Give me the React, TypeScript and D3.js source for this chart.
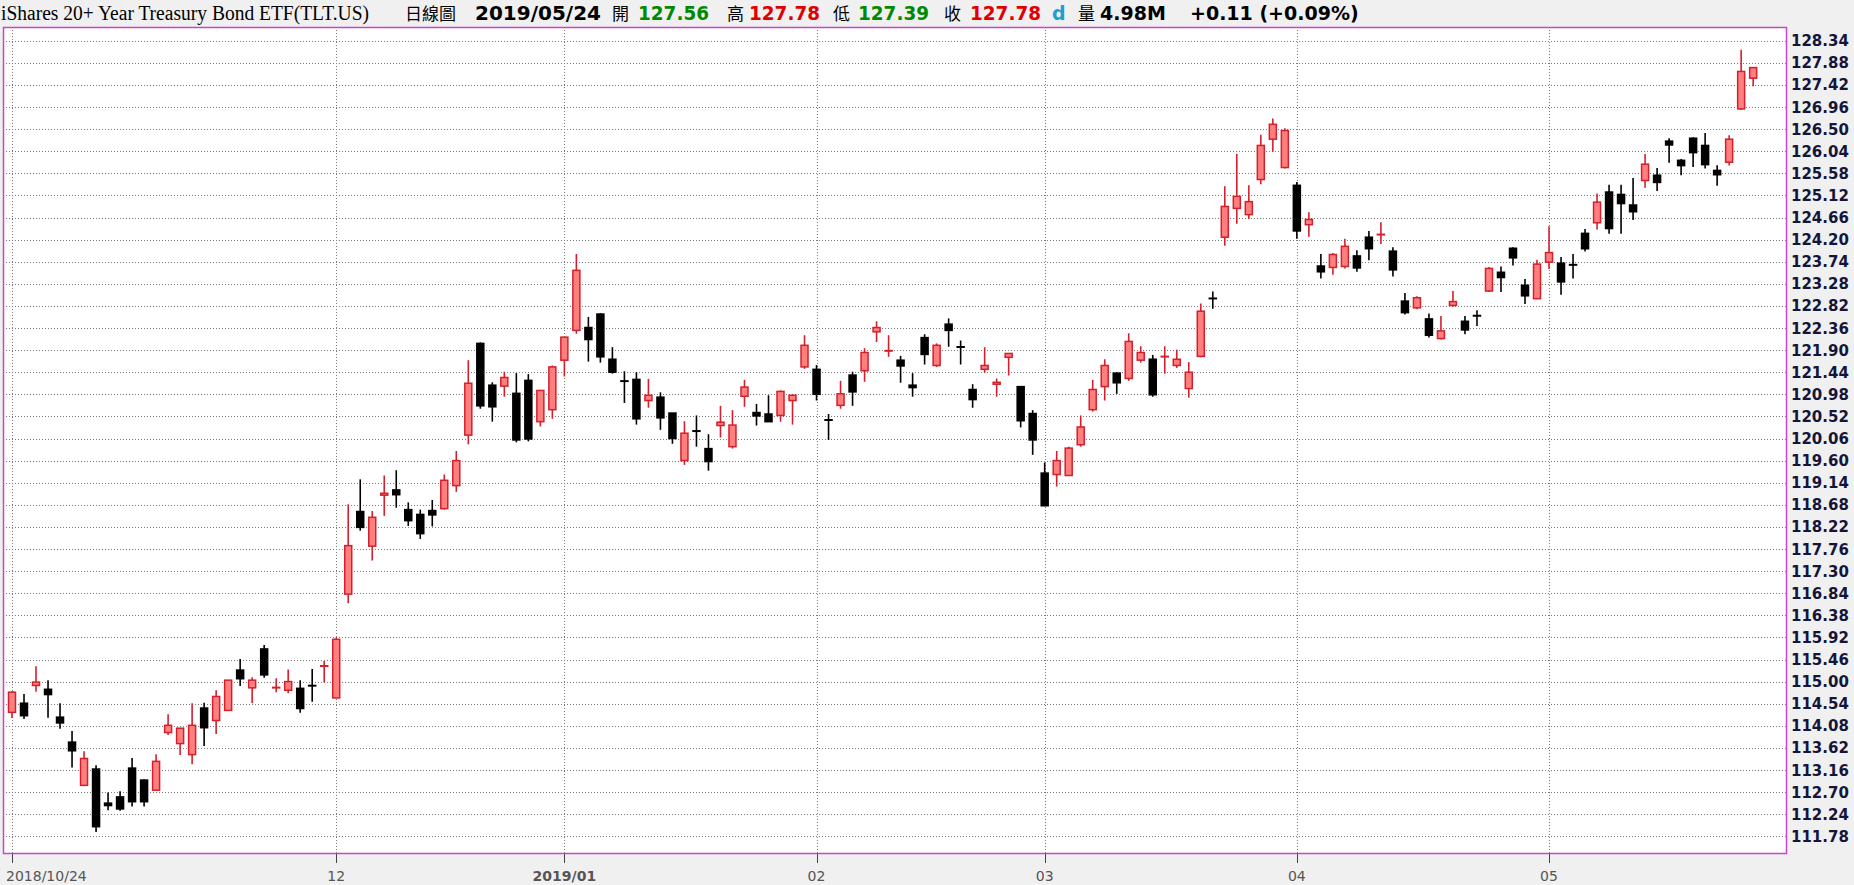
import React from "react";
import * as d3 from "d3";

const dates: string[] = [
  "2018/10/24","2018/10/25","2018/10/26","2018/10/29","2018/10/30","2018/10/31",
  "2018/11/01","2018/11/02","2018/11/05","2018/11/06","2018/11/07","2018/11/08","2018/11/09","2018/11/12","2018/11/13","2018/11/14","2018/11/15","2018/11/16","2018/11/19","2018/11/20","2018/11/21","2018/11/23","2018/11/26","2018/11/27","2018/11/28","2018/11/29","2018/11/30",
  "2018/12/03","2018/12/04","2018/12/06","2018/12/07","2018/12/10","2018/12/11","2018/12/12","2018/12/13","2018/12/14","2018/12/17","2018/12/18","2018/12/19","2018/12/20","2018/12/21","2018/12/24","2018/12/26","2018/12/27","2018/12/28","2018/12/31",
  "2019/01/02","2019/01/03","2019/01/04","2019/01/07","2019/01/08","2019/01/09","2019/01/10","2019/01/11","2019/01/14","2019/01/15","2019/01/16","2019/01/17","2019/01/18","2019/01/22","2019/01/23","2019/01/24","2019/01/25","2019/01/28","2019/01/29","2019/01/30","2019/01/31",
  "2019/02/01","2019/02/04","2019/02/05","2019/02/06","2019/02/07","2019/02/08","2019/02/11","2019/02/12","2019/02/13","2019/02/14","2019/02/15","2019/02/19","2019/02/20","2019/02/21","2019/02/22","2019/02/25","2019/02/26","2019/02/27","2019/02/28",
  "2019/03/01","2019/03/04","2019/03/05","2019/03/06","2019/03/07","2019/03/08","2019/03/11","2019/03/12","2019/03/13","2019/03/14","2019/03/15","2019/03/18","2019/03/19","2019/03/20","2019/03/21","2019/03/22","2019/03/25","2019/03/26","2019/03/27","2019/03/28","2019/03/29",
  "2019/04/01","2019/04/02","2019/04/03","2019/04/04","2019/04/05","2019/04/08","2019/04/09","2019/04/10","2019/04/11","2019/04/12","2019/04/15","2019/04/16","2019/04/17","2019/04/18","2019/04/22","2019/04/23","2019/04/24","2019/04/25","2019/04/26","2019/04/29","2019/04/30",
  "2019/05/01","2019/05/02","2019/05/03","2019/05/06","2019/05/07","2019/05/08","2019/05/09","2019/05/10","2019/05/13","2019/05/14","2019/05/15","2019/05/16","2019/05/17","2019/05/20","2019/05/21","2019/05/22","2019/05/23","2019/05/24",
];

const opens: number[] = [
  114.36,114.55,114.92,114.84,114.26,113.74,112.84,113.18,112.47,112.60,
  113.20,112.95,112.74,113.94,113.71,113.48,114.45,114.19,114.40,115.24,
  114.87,115.68,114.87,114.82,114.86,114.92,115.32,114.66,116.82,118.54,
  117.82,118.88,118.99,118.58,118.48,118.56,118.60,119.08,120.13,122.04,
  121.17,121.15,121.00,121.27,120.41,120.66,121.69,122.31,122.37,122.65,
  121.71,121.26,121.29,120.85,120.92,120.59,119.60,120.22,119.85,120.33,
  119.89,120.94,120.60,120.57,120.54,120.85,121.55,121.50,120.45,120.75,
  121.38,121.47,122.28,121.88,121.69,121.17,122.16,121.58,122.44,121.97,
  121.08,121.50,121.19,121.75,121.14,120.58,119.34,119.31,119.29,119.93,
  120.66,121.14,121.42,121.31,121.69,121.71,121.76,121.58,121.10,121.77,
  122.98,124.25,124.85,124.72,125.45,126.29,125.70,125.33,124.51,123.65,
  123.62,123.64,123.86,124.25,124.30,123.96,122.92,122.78,122.55,122.14,
  122.83,122.50,122.62,123.13,123.52,124.02,123.25,122.97,123.73,123.71,
  123.68,124.33,124.55,125.19,125.14,124.92,125.43,125.54,126.25,125.85,
  126.31,126.16,125.64,125.81,126.92,127.56,
];

const highs: number[] = [
  114.80,114.74,115.32,115.03,114.55,113.97,113.55,113.26,112.69,112.72,
  113.41,112.97,113.49,114.32,114.03,114.55,114.56,114.82,115.03,115.47,
  115.09,115.76,115.07,115.25,115.03,115.26,115.43,115.92,118.69,119.21,
  118.55,119.29,119.40,118.73,118.58,118.78,119.31,119.80,121.69,122.06,
  121.23,121.45,121.42,121.40,121.06,121.58,122.17,123.90,122.59,122.67,
  121.96,121.46,121.44,121.30,121.02,120.59,120.42,120.54,120.15,120.74,
  120.65,121.28,120.78,120.96,121.06,120.98,122.21,121.59,120.57,121.26,
  121.45,121.94,122.50,122.21,121.78,121.42,122.23,122.04,122.56,122.10,
  121.19,121.96,121.31,121.83,121.14,120.65,119.56,119.80,119.89,120.54,
  121.28,121.71,121.44,122.25,121.98,121.80,121.98,121.91,121.65,122.87,
  123.12,125.31,125.98,125.33,126.38,126.72,126.52,125.40,124.77,123.90,
  123.92,124.22,123.98,124.38,124.56,124.04,123.09,123.02,122.66,122.61,
  123.13,122.61,122.73,123.63,123.64,124.04,123.38,123.78,124.48,123.84,
  123.90,124.42,125.16,125.34,125.34,125.48,125.98,125.69,126.31,125.88,
  126.33,126.42,125.75,126.37,128.15,127.78,
];

const lows: number[] = [
  114.24,114.22,114.79,114.25,114.02,113.21,112.84,111.87,112.32,112.31,
  112.40,112.40,112.74,113.89,113.47,113.28,113.66,113.91,114.40,114.91,
  114.55,115.08,114.78,114.76,114.35,114.58,114.98,114.66,116.63,118.14,
  117.52,118.45,118.62,118.24,117.97,118.23,118.58,118.95,119.94,120.68,
  120.41,120.93,119.98,120.00,120.31,120.47,121.35,122.24,121.66,121.64,
  121.41,120.80,120.35,120.70,120.24,119.95,119.51,119.89,119.39,120.08,
  119.85,120.72,120.33,120.41,120.41,120.35,121.51,120.85,120.03,120.68,
  120.74,121.24,122.07,121.76,121.22,120.93,121.60,121.55,121.97,121.60,
  120.70,121.43,120.93,121.37,120.29,119.72,118.66,119.06,119.29,119.89,
  120.62,120.85,120.99,121.26,121.64,120.93,121.41,121.53,120.91,121.75,
  122.76,124.07,124.53,124.63,125.35,126.03,125.68,124.22,124.26,123.39,
  123.47,123.60,123.53,123.77,124.11,123.43,122.64,122.75,122.16,122.12,
  122.80,122.23,122.40,123.11,123.11,123.66,122.86,122.97,123.59,123.05,
  123.39,123.95,124.41,124.32,124.32,124.61,125.28,125.21,125.80,125.54,
  125.71,125.68,125.32,125.74,126.90,127.39,
];

const closes: number[] = [
  114.78,114.29,114.99,114.73,114.14,113.56,113.40,111.98,112.42,112.35,
  112.50,112.50,113.34,114.09,114.03,114.09,114.04,114.69,115.03,115.06,
  115.03,115.14,114.88,115.00,114.44,114.91,115.33,115.88,117.83,118.21,
  118.42,118.92,118.89,118.35,118.08,118.47,119.19,119.60,121.21,120.74,
  120.72,121.33,120.03,120.05,121.06,121.55,122.17,123.56,122.12,121.76,
  121.44,121.25,120.47,120.96,120.49,120.06,120.17,120.21,119.58,120.40,
  120.34,121.13,120.53,120.41,121.04,120.96,122.00,120.98,120.44,120.99,
  121.03,121.85,122.37,121.89,121.57,121.12,121.81,122.00,122.31,121.96,
  120.87,121.58,121.23,121.83,120.43,120.03,118.66,119.60,119.86,120.30,
  121.08,121.58,121.22,122.08,121.85,120.97,121.77,121.71,121.44,122.71,
  122.97,124.89,125.10,124.99,126.16,126.60,126.47,124.38,124.62,123.53,
  123.89,124.06,123.61,124.01,124.31,123.57,122.68,122.99,122.21,122.30,
  122.91,122.32,122.61,123.60,123.41,123.82,123.03,123.69,123.93,123.32,
  123.67,124.01,124.98,124.43,124.95,124.78,125.77,125.39,126.17,125.74,
  126.01,125.76,125.55,126.29,127.70,127.78,
];

const yTickLabels: string[] = [
  "111.78","112.24","112.70","113.16","113.62","114.08","114.54","115.00","115.46",
  "115.92","116.38","116.84","117.30","117.76","118.22","118.68","119.14","119.60",
  "120.06","120.52","120.98","121.44","121.90","122.36","122.82","123.28","123.74",
  "124.20","124.66","125.12","125.58","126.04","126.50","126.96","127.42","127.88","128.34",
];

// x-axis ticks: the date where each tick sits, and its label
const tickDates: string[] = ["2018/10/24", "2018/12/03", "2019/01/02", "2019/02/01", "2019/03/01", "2019/04/01", "2019/05/01"];
const tickLabels: string[] = ["2018/10/24", "12", "2019/01", "02", "03", "04", "05"];

const titleText = "iShares 20+ Year Treasury Bond ETF(TLT.US)";
const periodText = "日線圖";
const lastDate = "2019/05/24";
const quoteLabels: string[] = ["開", "高", "低", "收"];
const quoteValues: string[] = ["127.56", "127.78", "127.39", "127.78"];
const volumeLabel = "量";
const volumeText = "4.98M";
const changeText = "+0.11 (+0.09%)";

const W = 1854;
const H = 885;
const PL = 3, PR = 1787, PT = 27, PB = 854;

const RED_FILL = "#ff7f7f";
const RED_LINE = "#d3202c";
const UP_TXT = "#e00000";
const DN_TXT = "#008a00";

export default function App() {
  const n = dates.length;
  const x = d3.scaleLinear().domain([0, n - 1]).range([12, 12 + 12.008 * (n - 1)]);
  const y = d3.scaleLinear().domain([111.78, 128.34]).range([836.3, 40.7]);

  const tickIdx = tickDates.map((d) => dates.indexOf(d));

  const bodyW = 7;
  const sans = "'DejaVu Sans', Verdana, sans-serif";
  const cjk = "'Noto Sans CJK TC', sans-serif";
  const hdrY = 20;

  const quoteX = [612, 727, 833, 944];
  const valueX = [638, 749, 858, 970];

  return (
    <svg
      width={W}
      height={H}
      style={{ position: "absolute", left: 0, top: 0, display: "block" }}
      xmlns="http://www.w3.org/2000/svg"
    >
      <rect x={0} y={0} width={W} height={H} fill="#f0f0f0" />
      {/* header */}
      <text x={1} y={hdrY} fontFamily="'Liberation Serif', 'Times New Roman', serif" fontSize={20} fill="#000" textLength={368} lengthAdjust="spacingAndGlyphs">
        {titleText}
      </text>
      <text x={405} y={hdrY} fontFamily={cjk} fontSize={17} fill="#000">{periodText}</text>
      <text x={475} y={hdrY} fontFamily={sans} fontWeight="bold" fontSize={19} fill="#000" textLength={126} lengthAdjust="spacingAndGlyphs">{lastDate}</text>
      {quoteLabels.map((l, i) => (
        <g key={l + i}>
          <text x={quoteX[i]} y={hdrY} fontFamily={cjk} fontSize={17} fill="#000">{l}</text>
          <text x={valueX[i]} y={hdrY} fontFamily={sans} fontWeight="bold" fontSize={19} fill={i % 2 === 0 ? DN_TXT : UP_TXT} textLength={71} lengthAdjust="spacingAndGlyphs">{quoteValues[i]}</text>
        </g>
      ))}
      <text x={1052} y={hdrY} fontFamily={sans} fontWeight="bold" fontSize={19} fill="#1e9fd0">d</text>
      <text x={1078} y={hdrY} fontFamily={cjk} fontSize={17} fill="#000">{volumeLabel}</text>
      <text x={1100} y={hdrY} fontFamily={sans} fontWeight="bold" fontSize={19} fill="#000">{volumeText}</text>
      <text x={1190} y={hdrY} fontFamily={sans} fontWeight="bold" fontSize={19} fill="#000">{changeText}</text>

      {/* plot area */}
      <rect x={PL} y={PT} width={PR - PL} height={PB - PT} fill="#ffffff" />
      {yTickLabels.map((t) => (
        <line key={"h" + t} x1={PL} x2={PR} y1={Math.round(y(+t)) + 0.5} y2={Math.round(y(+t)) + 0.5} stroke="#7a7a7a" strokeWidth={1} strokeDasharray="1,2" />
      ))}
      {tickIdx.map((i) => (
        <line key={"v" + i} x1={Math.round(x(i)) + 0.5} x2={Math.round(x(i)) + 0.5} y1={PT} y2={PB} stroke="#7a7a7a" strokeWidth={1} strokeDasharray="1,2" />
      ))}

      {/* candles */}
      {dates.map((d, i) => {
        const o = opens[i], c = closes[i], h = highs[i], l = lows[i];
        const up = c >= o;
        const cx = x(i);
        const col = up ? RED_LINE : "#000";
        const top = y(Math.max(o, c));
        const bot = y(Math.min(o, c));
        const bh = bot - top;
        return (
          <g key={d}>
            <line x1={cx} x2={cx} y1={y(h)} y2={y(l)} stroke={col} strokeWidth={1.6} />
            {bh < 1.5 ? (
              <line x1={cx - bodyW / 2 - 0.75} x2={cx + bodyW / 2 + 0.75} y1={(top + bot) / 2} y2={(top + bot) / 2} stroke={col} strokeWidth={2} />
            ) : up ? (
              <rect x={cx - bodyW / 2} y={top} width={bodyW} height={bh} fill={RED_FILL} stroke={RED_LINE} strokeWidth={1.5} />
            ) : (
              <rect x={cx - bodyW / 2 - 0.75} y={top - 0.75} width={bodyW + 1.5} height={bh + 1.5} fill="#000" />
            )}
          </g>
        );
      })}

      {/* border */}
      <rect x={PL + 0.5} y={PT + 0.5} width={PR - PL - 1} height={PB - PT - 1} fill="none" stroke="#cc44cc" strokeWidth={1.5} />

      {/* y axis labels */}
      {yTickLabels.map((t) => (
        <text key={"yl" + t} x={1791} y={y(+t) + 5.5} fontFamily={sans} fontWeight="bold" fontSize={15} fill="#15153a">{t}</text>
      ))}

      {/* x axis ticks & labels */}
      {tickIdx.map((i, k) => (
        <g key={"xt" + i}>
          <line x1={Math.round(x(i)) + 0.5} x2={Math.round(x(i)) + 0.5} y1={PB} y2={PB + 9} stroke="#444" strokeWidth={1} />
          <text
            x={k === 0 ? 6 : x(i)}
            y={881}
            textAnchor={k === 0 ? "start" : "middle"}
            fontFamily={sans}
            fontSize={14}
            fontWeight={tickLabels[k].length === 7 ? "bold" : "normal"}
            fill="#555"
          >
            {tickLabels[k]}
          </text>
        </g>
      ))}
    </svg>
  );
}
